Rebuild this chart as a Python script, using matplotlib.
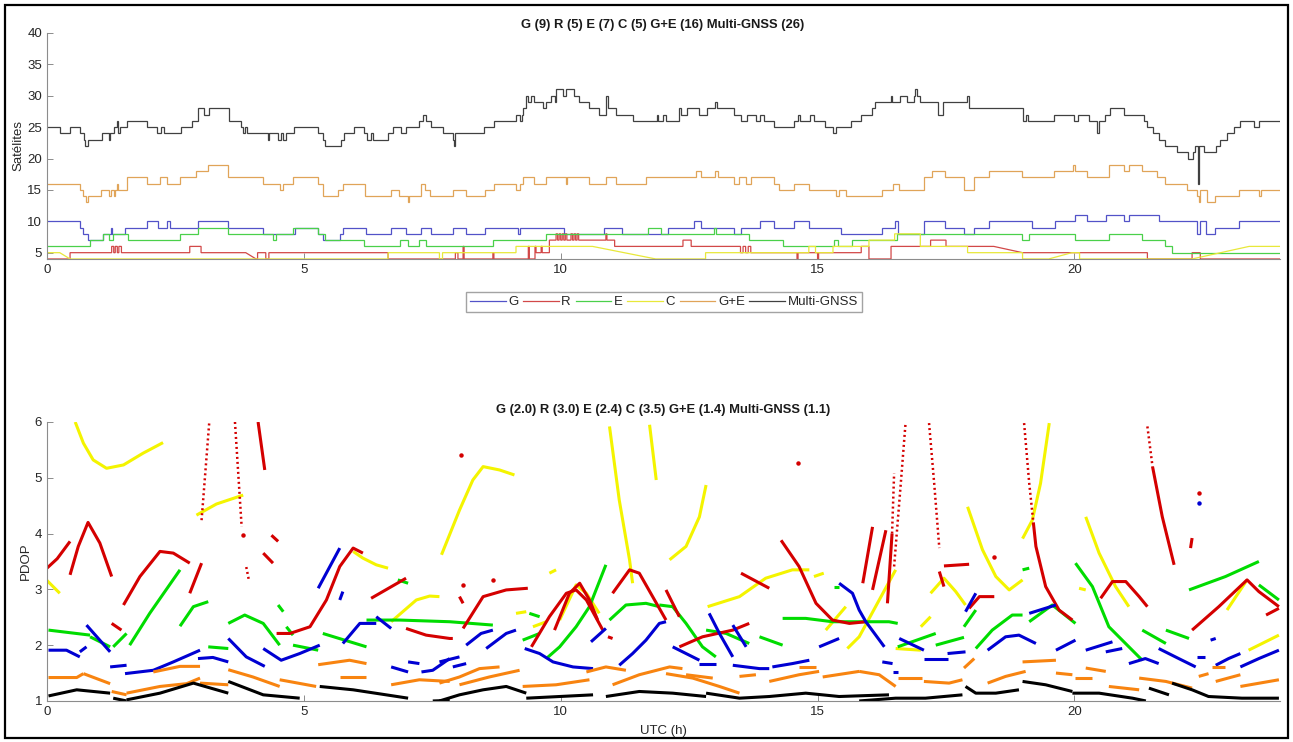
import numpy as np
import matplotlib
matplotlib.use("Agg")
import matplotlib.pyplot as plt
from matplotlib.patches import Rectangle

plt.rcParams["font.family"] = ["Liberation Sans", "DejaVu Sans"]

# ---- satellites in view (step series: start times in h, count; last time closes the series) ----
g_t = [0, 0.64, 0.71, 0.8, 1.1, 1.24, 1.27, 1.52, 1.94, 2.17, 2.33, 2.39, 2.94, 3.53, 4.21, 4.82, 5.28,
       5.37, 5.7, 5.76, 6.22, 6.7, 6.99, 7.29, 7.48, 7.9, 8.16, 8.52, 9.16, 9.2, 10.07, 10.85, 11.19,
       12.08, 12.6, 12.73, 13.38, 13.5, 13.87, 14.16, 14.55, 14.84, 15.45, 16.26, 16.5, 16.56, 17.07,
       17.49, 17.85, 18.05, 18.34, 19.18, 19.25, 19.63, 20.02, 20.25, 20.61, 20.96, 21.06, 21.64,
       22.39, 22.45, 22.56, 22.74, 23.2, 24]
g_n = [10, 9, 8, 7, 8, 9, 8, 9, 10, 9, 10, 9, 10, 9, 8, 9, 8,
       7, 8, 9, 8, 9, 8, 9, 8, 9, 8, 9, 8, 9, 8, 9, 8,
       9, 10, 9, 8, 9, 10, 9, 10, 9, 8, 9, 10, 8, 10,
       9, 8, 9, 10, 9, 9, 10, 11, 10, 11, 10, 11, 10,
       8, 10, 8, 9, 10]

r_t = [0, 0.45, 1.26, 1.3, 1.33, 1.37, 1.4, 1.45, 2.78, 3.0, 3.87, 4.07, 4.1, 4.26, 4.32, 6.64, 7.95,
       8.0, 8.1, 8.12, 8.68, 8.7, 9.37, 9.39, 9.5, 9.52, 9.62, 9.64, 9.78, 9.91, 9.94, 9.97, 10.0,
       10.03, 10.06, 10.09, 10.12, 10.2, 10.23, 10.26, 10.29, 10.32, 10.35, 10.88, 10.9, 11.05,
       12.31, 12.38, 12.54, 13.5, 13.55, 13.6, 13.65, 13.7, 14.6, 14.62, 15.0, 15.02, 15.85, 16.0,
       16.43, 17.2, 17.5, 18.43, 18.99, 21.42, 22.29, 22.45, 24]
r_n = [4, 5, 6, 5, 6, 5, 6, 5, 6, 5, np.nan, 4, 5, 4, 5, 4, 5,
       4, 6, 4, 5, 4, 6, 4, 6, 5, 6, 5, 7, 8, 7, 8, 7,
       8, 7, 8, 7, 8, 7, 8, 7, 8, 7, 8, 7, 6,
       6, 7, 6, 5, 6, 5, 6, 5, 4, 5, 4, 5, 6, 4,
       6, 7, 6, np.nan, 5, 4, 5, 4]

e_t = [0, 0.84, 1.1, 1.2, 1.29, 1.58, 2.59, 2.94, 3.53, 4.4, 4.46, 4.79, 5.28, 5.41, 6.18, 6.87,
       7.03, 7.25, 7.38, 8.68, 9.71, 11.7, 11.96, 12.99, 13.02, 13.67, 14.32, 15.32, 15.39, 15.68,
       16.55, 18.98, 19.11, 20.02, 20.67, 21.32, 21.77, 21.9, 24]
e_n = [6, 7, 8, 7, 8, 7, 8, 9, 8, 7, 8, 9, 8, 7, 6, 7,
       6, 7, 6, 7, 8, 9, 8, 9, 8, 7, 6, 7, 6, 7,
       8, 7, 8, 7, 8, 7, 6, 5]

c_t = [0, 0.25, 0.45, 6.64, 7.64, 7.7, 9.13, 10.62, 11.85, 12.82, 14.83, 14.96, 15.3, 16.0, 16.5,
       17.0, 17.92, 18.99, 19.5, 19.95, 20.1, 22.29, 23.4, 24]
c_n = [5, np.nan, 4, 5, 4, 5, 6, np.nan, 4, 5, 6, 5, 6, 7, 8,
       6, 5, 4, np.nan, 5, 4, np.nan, 6]

ge_t = [0, 0.64, 0.71, 0.76, 0.8, 1.06, 1.2, 1.24, 1.3, 1.33, 1.36, 1.38, 1.55, 1.94, 2.2, 2.33,
        2.39, 2.59, 2.91, 3.14, 3.53, 4.21, 4.53, 4.6, 4.79, 5.28, 5.37, 5.66, 5.76, 6.19, 6.7,
        6.86, 7.03, 7.05, 7.29, 7.35, 7.45, 7.9, 8.16, 8.52, 8.71, 9.13, 9.2, 9.26, 9.49, 9.55,
        9.72, 10.1, 10.13, 10.56, 10.88, 11.08, 11.66, 12.63, 12.73, 13.0, 13.06, 13.38, 13.48,
        13.6, 13.7, 14.16, 14.25, 14.55, 14.84, 15.36, 15.42, 15.55, 16.26, 16.46, 16.59, 17.07,
        17.23, 17.49, 17.85, 18.05, 18.34, 18.98, 19.6, 19.98, 20.01, 20.25, 20.67, 20.96, 21.06,
        21.32, 21.61, 21.77, 22.19, 22.39, 22.42, 22.45, 22.58, 22.74, 23.2, 23.6, 23.63, 24]
ge_n = [16, 15, 14, 13, 14, 15, 14, 15, 14, 15, 16, 15, 17, 16, 17, 16,
        16, 17, 18, 19, 17, 16, 15, 16, 17, 16, 14, 15, 16, 14, 15,
        14, 13, 14, 16, 15, 14, 15, 14, 15, 16, 15, 16, 17, 16, 16,
        17, 16, 17, 16, 17, 16, 17, 18, 17, 18, 17, 16, 17,
        16, 17, 16, 15, 16, 15, 14, 15, 14, 15, 16, 15, 17,
        18, 17, 15, 17, 18, 17, 18, 19, 18, 17, 19, 18, 19,
        18, 17, 16, 15, 14, 13, 15, 13, 14, 15, 14, 15]

multi_t = [0, 0.25, 0.45, 0.65, 0.72, 0.75, 0.79, 1.07, 1.2, 1.23, 1.3, 1.36, 1.39, 1.42, 1.55, 1.95,
           2.15, 2.22, 2.28, 2.6, 2.82, 2.95, 3.05, 3.15, 3.55, 3.78, 3.82, 3.86, 3.9, 4.3, 4.33,
           4.5, 4.55, 4.6, 4.65, 4.8, 5.28, 5.38, 5.42, 5.72, 5.78, 5.97, 6.17, 6.23, 6.31, 6.35,
           6.64, 6.73, 6.9, 6.99, 7.25, 7.32, 7.38, 7.48, 7.71, 7.9, 7.93, 7.95, 8.5, 8.7, 9.13,
           9.2, 9.24, 9.26, 9.33, 9.36, 9.42, 9.49, 9.65, 9.72, 9.81, 9.88, 9.91, 10.05, 10.1,
           10.25, 10.36, 10.56, 10.75, 10.88, 10.92, 11.08, 11.4, 11.87, 11.89, 12.0, 12.05, 12.31,
           12.35, 12.45, 12.7, 12.85, 13.0, 13.05, 13.38, 13.5, 13.62, 13.8, 13.88, 13.95, 14.15,
           14.55, 14.62, 14.65, 14.86, 14.93, 15.15, 15.3, 15.35, 15.65, 15.85, 16.05, 16.12,
           16.42, 16.45, 16.61, 16.75, 16.87, 16.9, 16.93, 17.0, 17.35, 17.45, 17.9, 17.95, 18.99,
           19.05, 19.1, 19.6, 20.0, 20.06, 20.28, 20.43, 20.48, 20.6, 20.7, 20.96, 21.35, 21.42,
           21.52, 21.64, 21.77, 22.0, 22.22, 22.3, 22.35, 22.4, 22.43, 22.52, 22.75, 22.84, 22.97,
           23.1, 23.23, 23.5, 23.6, 24]
multi_n = [25, 24, 25, 24, 23, 22, 23, 24, 23, 24, 25, 26, 24, 25, 26, 25,
           24, 25, 24, 25, 26, 28, 27, 28, 26, 25, 24, 25, 24, 23, 24,
           23, 24, 23, 24, 25, 24, 23, 22, 23, 24, 25, 24, 23, 24, 23,
           24, 25, 24, 25, 26, 27, 26, 25, 24, 23, 22, 24, 25, 26, 27,
           26, 27, 28, 30, 29, 30, 29, 28, 29, 30, 29, 31, 30, 31,
           30, 29, 28, 27, 30, 28, 27, 26, 27, 26, 27, 26, 28,
           27, 28, 27, 28, 29, 28, 27, 26, 27, 26, 27, 26, 25,
           26, 27, 26, 27, 26, 25, 24, 25, 26, 27, 28, 29,
           30, 29, 30, 29, 30, 31, 30, 29, 27, 29, 30, 28, 26,
           27, 26, 27, 26, 27, 26, 24, 26, 27, 28, 27, 26, 25,
           24, 23, 22, 21, 20, 21, 22, 16, 22, 21, 22, 23, 24,
           25, 26, 25, 26]

# ---- PDOP per constellation: each entry is one continuous arc of (UTC h, PDOP) ----
pdop_g = [
    [(0.03, 1.91), (0.38, 1.91), (0.64, 1.79)], [(0.77, 2.36), (1.23, 1.88)], [(0.64, 1.88), (0.77, 1.97)],
    [(1.23, 1.61), (1.55, 1.64)], [(1.52, 1.49), (2.07, 1.55), (2.46, 1.70), (2.98, 1.91)],
    [(2.94, 1.76), (3.23, 1.78), (3.53, 1.70)], [(3.53, 2.12), (3.88, 1.79), (4.24, 1.62)],
    [(4.21, 1.94), (4.56, 1.73), (4.92, 1.85), (5.31, 2.0)], [(5.28, 3.02), (5.70, 3.74)],
    [(5.70, 2.81), (5.76, 2.96)], [(5.76, 2.03), (6.09, 2.39), (6.41, 2.39)], [(6.41, 2.51), (6.70, 2.30)],
    [(6.70, 1.61), (7.03, 1.52)], [(7.03, 1.70), (7.25, 1.67)], [(7.29, 1.52), (7.51, 1.55), (7.84, 1.76)],
    [(7.64, 1.70), (8.03, 1.79)], [(7.9, 1.61), (8.16, 1.67)], [(8.16, 2.0), (8.45, 2.21), (8.68, 2.27)],
    [(8.55, 1.94), (8.94, 2.21), (9.13, 2.27)],
    [(9.30, 1.94), (9.59, 1.85), (9.85, 1.70), (10.24, 1.61), (10.63, 1.58)], [(10.59, 2.06), (10.88, 2.30)],
    [(11.14, 1.64), (11.40, 1.85), (11.66, 2.09), (11.92, 2.39), (12.05, 2.42)],
    [(12.18, 1.97), (12.44, 1.85), (12.70, 1.73)], [(12.89, 2.57), (13.09, 2.21), (13.35, 1.79)],
    [(13.35, 2.36), (13.61, 1.97)], [(12.70, 1.67), (13.02, 1.67)],
    [(13.35, 1.64), (13.87, 1.58), (14.06, 1.58)], [(14.12, 1.61), (14.51, 1.67), (14.84, 1.73)],
    [(15.03, 1.97), (15.42, 2.12)],
    [(15.42, 3.11), (15.68, 2.93), (15.81, 2.63), (15.94, 2.42), (16.30, 1.97)],
    [(16.59, 2.12), (17.07, 1.91)], [(17.07, 1.76), (17.53, 1.76)], [(17.53, 1.85), (17.88, 1.88)],
    [(17.88, 2.6), (18.08, 2.93)], [(16.26, 1.70), (16.46, 1.67)], [(16.46, 1.52), (16.56, 1.52)],
    [(18.31, 1.91), (18.66, 2.15), (18.92, 2.18), (19.25, 2.03)], [(19.12, 2.57), (19.64, 2.72)],
    [(19.64, 1.91), (20.02, 2.09)], [(20.22, 1.91), (20.74, 2.06)], [(20.61, 1.88), (20.93, 1.94)],
    [(21.06, 1.67), (21.38, 1.76), (21.64, 1.67)], [(21.64, 1.94), (22.03, 1.76), (22.36, 1.61)],
    [(22.39, 1.79), (22.55, 1.79)], [(22.65, 2.09), (22.75, 2.12)],
    [(22.75, 1.64), (23.0, 1.76), (23.23, 1.85)], [(23.23, 1.61), (23.59, 1.76), (23.98, 1.91)],
]
pdop_g_dots = [(22.42, 4.54)]

pdop_r = [
    [(0.0, 3.38), (0.2, 3.55), (0.45, 3.86)], [(0.45, 3.26), (0.61, 3.77), (0.80, 4.20), (1.03, 3.83), (1.26, 3.23)],
    [(1.26, 2.39), (1.45, 2.27)], [(1.49, 2.72), (1.81, 3.23), (2.20, 3.68), (2.46, 3.65), (2.78, 3.47)],
    [(2.78, 2.93), (3.01, 3.47)], [(4.11, 6.0), (4.24, 5.14)], [(4.37, 3.97), (4.5, 3.86)],
    [(4.21, 3.65), (4.4, 3.47)],
    [(4.47, 2.21), (4.73, 2.21), (5.12, 2.33), (5.44, 2.81), (5.70, 3.41), (5.96, 3.74), (6.15, 3.65)],
    [(6.31, 2.84), (6.99, 3.2)], [(6.99, 2.30), (7.38, 2.18), (7.84, 2.12), (7.90, 2.12)],
    [(8.03, 2.87), (8.10, 2.75)], [(8.10, 2.30), (8.49, 2.87), (8.94, 2.99), (9.36, 3.02)],
    [(9.43, 1.97), (9.78, 2.51), (10.11, 2.93), (10.30, 2.99), (10.50, 2.81), (10.82, 2.27)],
    [(9.88, 2.27), (10.17, 2.93), (10.37, 3.11), (10.56, 2.81), (10.72, 2.45)],
    [(11.01, 2.93), (11.34, 3.35), (11.53, 3.29), (11.79, 2.87), (12.05, 2.45)],
    [(12.05, 2.99), (12.31, 2.51)], [(10.92, 2.15), (11.01, 2.12)],
    [(12.31, 1.97), (12.76, 2.15), (13.35, 2.27), (13.67, 2.39)], [(13.51, 3.29), (14.06, 3.02)],
    [(14.29, 3.88), (14.64, 3.41), (14.97, 2.75), (15.29, 2.45), (15.62, 2.39), (15.94, 2.42)],
    [(15.88, 3.11), (16.07, 4.12)], [(16.07, 2.99), (16.33, 4.06)], [(16.36, 2.75), (16.45, 4.0)],
    [(17.37, 3.32), (17.46, 3.05)], [(17.46, 3.42), (17.95, 3.45)], [(17.95, 2.66), (18.15, 2.87), (18.44, 2.87)],
    [(19.2, 4.2), (19.25, 3.77), (19.44, 3.05), (19.70, 2.63), (19.96, 2.45)],
    [(20.51, 2.84), (20.74, 3.14), (21.0, 3.14), (21.26, 2.87), (21.42, 2.69)],
    [(21.52, 5.2), (21.71, 4.3), (21.94, 3.44)], [(22.26, 3.74), (22.29, 3.92)],
    [(22.29, 2.27), (22.81, 2.69), (23.36, 3.17), (23.59, 2.96), (23.98, 2.69)],
    [(23.73, 2.54), (23.98, 2.66)],
]
# steep arcs where the 30 s epochs spread apart into dots
pdop_r_sparse = [
    [(3.01, 4.24), (3.16, 6.0)], [(3.66, 6.0), (3.79, 4.12)], [(3.88, 3.4), (3.93, 3.17)],
    [(16.45, 4.0), (16.49, 5.08)], [(16.49, 3.41), (16.62, 4.9), (16.71, 5.95)],
    [(17.17, 5.98), (17.27, 4.9), (17.37, 3.74)], [(19.02, 5.98), (19.12, 4.9), (19.2, 4.2)],
    [(21.42, 5.92), (21.52, 5.2)],
]
pdop_r_dots = [(8.06, 5.41), (8.1, 3.08), (8.68, 3.17), (14.61, 5.26), (18.44, 3.58), (22.42, 4.72), (3.81, 3.97)]

pdop_e = [
    [(0.03, 2.27), (0.84, 2.18)], [(0.84, 2.15), (1.23, 1.97)], [(1.29, 1.97), (1.55, 2.21)],
    [(1.61, 2.0), (2.0, 2.57), (2.59, 3.35)], [(2.59, 2.34), (2.85, 2.69), (3.14, 2.78)],
    [(3.14, 1.97), (3.53, 1.94)], [(3.53, 2.39), (3.85, 2.54), (4.21, 2.39), (4.53, 2.0)],
    [(4.50, 2.72), (4.60, 2.60)], [(4.66, 2.33), (4.79, 2.18)], [(4.79, 2.0), (5.28, 1.91)],
    [(5.37, 2.21), (6.22, 1.97)], [(6.22, 2.45), (6.87, 2.45), (7.84, 2.42), (8.68, 2.36)],
    [(6.83, 3.17), (7.03, 3.11)], [(9.26, 2.09), (9.59, 2.21)],
    [(9.72, 1.76), (9.98, 1.97), (10.30, 2.33), (10.56, 2.69), (10.88, 3.44)],
    [(10.95, 2.45), (11.27, 2.72), (11.66, 2.75), (11.92, 2.69)],
    [(11.92, 2.72), (12.18, 2.69), (12.44, 2.39), (12.76, 1.97), (13.02, 1.79)],
    [(12.83, 2.27), (13.22, 2.21), (13.67, 2.03)], [(13.87, 2.15), (14.32, 2.0)],
    [(14.32, 2.48), (14.77, 2.48), (15.29, 2.42), (16.39, 2.42), (16.56, 2.39)],
    [(15.32, 3.05), (15.42, 3.05)], [(9.39, 2.57), (9.59, 2.51)], [(16.56, 1.97), (17.3, 2.21)],
    [(17.3, 2.0), (17.85, 2.14)], [(17.85, 2.33), (18.08, 2.63)],
    [(18.08, 1.94), (18.40, 2.27), (18.79, 2.54), (18.99, 2.54)], [(18.99, 3.35), (19.12, 3.38)],
    [(19.12, 2.42), (19.57, 2.72), (20.02, 2.39)], [(20.02, 3.47), (20.35, 3.05), (20.67, 2.33), (21.32, 1.73)],
    [(21.32, 2.27), (21.78, 2.03)], [(21.78, 2.27), (22.23, 2.12)],
    [(22.23, 2.99), (22.94, 3.23), (23.59, 3.5)], [(23.59, 3.08), (23.98, 2.81)],
]

pdop_c = [
    [(0.55, 6.0), (0.71, 5.62), (0.90, 5.32), (1.16, 5.17), (1.49, 5.23), (1.87, 5.44), (2.26, 5.63)],
    [(2.91, 4.33), (3.30, 4.53), (3.82, 4.69)], [(0.0, 3.16), (0.25, 2.93)],
    [(5.96, 3.68), (6.15, 3.56), (6.41, 3.44), (6.64, 3.38)], [(6.70, 2.42), (7.19, 2.81), (7.45, 2.88), (7.64, 2.87)],
    [(7.68, 3.62), (8.03, 4.42), (8.29, 4.96), (8.49, 5.2), (8.81, 5.14), (9.10, 5.05)],
    [(10.95, 5.92), (11.14, 4.6), (11.34, 3.53), (11.40, 3.11)], [(11.73, 5.95), (11.86, 4.96)],
    [(12.12, 3.53), (12.44, 3.77), (12.70, 4.3), (12.83, 4.87)],
    [(12.86, 2.69), (13.48, 2.87), (13.99, 3.2), (14.51, 3.35), (14.84, 3.35)], [(14.93, 3.23), (15.12, 3.29)],
    [(9.78, 3.29), (9.91, 3.35)], [(9.13, 2.57), (9.33, 2.6)],
    [(9.98, 2.45), (10.30, 3.08), (10.50, 2.93), (10.75, 2.57)], [(9.46, 2.33), (9.72, 2.42)],
    [(15.16, 2.27), (15.55, 2.69)], [(15.58, 1.94), (15.81, 2.15), (16.2, 2.81), (16.52, 3.35)],
    [(17.01, 2.33), (17.20, 2.51)], [(17.20, 2.93), (17.46, 3.2), (17.69, 2.96), (17.88, 2.72)],
    [(16.52, 1.94), (17.01, 1.91)], [(17.92, 4.48), (18.21, 3.71), (18.47, 3.23), (18.73, 2.99), (18.99, 3.17)],
    [(18.99, 3.91), (19.18, 4.24), (19.34, 4.9), (19.51, 5.98)], [(20.09, 3.02), (20.22, 2.99)],
    [(20.22, 4.3), (20.48, 3.65), (20.8, 3.05), (21.06, 2.69)], [(22.97, 2.63), (23.36, 3.17)],
    [(23.39, 1.91), (23.98, 2.18)],
]

pdop_ge = [
    [(0.03, 1.42), (0.58, 1.42), (0.71, 1.49)], [(0.71, 1.49), (1.23, 1.31)], [(1.26, 1.17), (1.55, 1.11)],
    [(1.55, 1.14), (2.2, 1.26), (2.72, 1.31), (2.98, 1.41)], [(2.07, 1.52), (2.59, 1.62), (2.98, 1.62)],
    [(2.98, 1.32), (3.53, 1.29)], [(3.53, 1.56), (4.01, 1.43), (4.53, 1.26)], [(4.53, 1.38), (5.24, 1.26)],
    [(5.28, 1.65), (5.89, 1.73), (6.22, 1.67)], [(5.70, 1.43), (6.22, 1.43)],
    [(6.70, 1.29), (7.25, 1.38), (7.84, 1.35)], [(7.64, 1.32), (8.03, 1.43), (8.42, 1.58), (8.81, 1.61)],
    [(8.03, 1.29), (8.61, 1.43), (9.2, 1.55)], [(9.26, 1.26), (9.91, 1.29), (10.56, 1.38)],
    [(10.5, 1.52), (10.88, 1.61), (11.27, 1.55)], [(11.01, 1.29), (11.53, 1.47), (12.12, 1.61), (12.37, 1.58)],
    [(12.05, 1.49), (12.57, 1.41), (13.09, 1.26), (13.48, 1.14)], [(12.44, 1.47), (12.96, 1.41)],
    [(14.06, 1.35), (14.64, 1.47), (15.03, 1.53)], [(14.64, 1.61), (14.97, 1.61)],
    [(15.10, 1.43), (15.81, 1.53)], [(13.48, 1.44), (13.80, 1.47)],
    [(15.81, 1.53), (16.2, 1.47), (16.52, 1.26)], [(16.56, 1.41), (17.04, 1.41)],
    [(17.07, 1.35), (17.56, 1.32), (17.82, 1.38)], [(17.85, 1.59), (18.05, 1.76)],
    [(18.31, 1.32), (18.66, 1.44), (19.05, 1.53)], [(18.99, 1.70), (19.64, 1.73)], [(19.64, 1.5), (19.96, 1.47)],
    [(20.02, 1.41), (20.35, 1.41)], [(20.22, 1.59), (20.61, 1.53)], [(20.67, 1.26), (21.26, 1.2)],
    [(21.26, 1.41), (21.78, 1.35), (22.29, 1.23)], [(22.42, 1.44), (22.61, 1.49)],
    [(22.68, 1.61), (22.94, 1.61)], [(22.75, 1.35), (23.23, 1.47)], [(23.23, 1.26), (23.98, 1.38)],
]

pdop_multi = [
    [(0.03, 1.09), (0.58, 1.20), (1.23, 1.14)], [(1.29, 1.05), (1.55, 1.0)],
    [(1.55, 1.02), (2.2, 1.14), (2.85, 1.32), (3.53, 1.14)], [(3.53, 1.35), (4.21, 1.11), (4.92, 1.05)],
    [(5.31, 1.26), (5.96, 1.2), (7.03, 1.05)], [(7.51, 1.0), (7.84, 1.01)],
    [(7.64, 1.0), (8.03, 1.11), (8.49, 1.2), (8.94, 1.26), (9.33, 1.14)],
    [(9.33, 1.05), (9.98, 1.08), (10.63, 1.11)], [(10.88, 1.08), (11.53, 1.17), (12.18, 1.14), (12.83, 1.08)],
    [(12.83, 1.14), (13.48, 1.05), (14.06, 1.08), (14.77, 1.14), (15.42, 1.08), (16.39, 1.11)],
    [(15.81, 1.0), (16.52, 1.05), (17.1, 1.05), (17.82, 1.11)],
    [(17.88, 1.26), (18.08, 1.14), (18.47, 1.14), (18.92, 1.2)], [(18.99, 1.35), (19.44, 1.29), (19.96, 1.17)],
    [(19.96, 1.14), (20.48, 1.14), (21.13, 1.05), (21.39, 1.0)], [(21.45, 1.23), (21.84, 1.11)],
    [(21.90, 1.32), (22.29, 1.2), (22.61, 1.08), (23.26, 1.05), (23.98, 1.05)],
]

labels = ["G", "R", "E", "C", "G+E", "Multi-GNSS"]
top_colors = ["#5252c8", "#d24848", "#4ad04a", "#e8e83a", "#e0a458", "#404040"]
bot_colors = ["#0000d2", "#d40000", "#00dc00", "#f4f400", "#f88410", "#000000"]

AX_GRAY = "#8c8c8c"
TXT = "#262626"
FS = 9.5


def step_path(t, v):
    # horizontal runs between break times; a NaN level means a straight ramp
    xs, ys = [], []
    for i in range(len(v)):
        if np.isnan(v[i]):
            xs += [t[i], t[i + 1]]
            ys += [v[i - 1], v[i + 1]]
        else:
            xs += [t[i], t[i + 1]]
            ys += [v[i], v[i]]
    return xs, ys


def style_axes(ax):
    for side in ("top", "right"):
        ax.spines[side].set_visible(False)
    for side in ("left", "bottom"):
        ax.spines[side].set_color(AX_GRAY)
        ax.spines[side].set_linewidth(0.8)
    ax.tick_params(direction="in", length=4, width=0.7, color=AX_GRAY,
                   labelcolor=TXT, labelsize=FS)
    ax.set_xlim(0, 24)
    ax.set_xticks([0, 5, 10, 15, 20])


fig = plt.figure(figsize=(12.93, 7.42), dpi=100)

# --- number of satellites ---
ax1 = fig.add_axes([0.0363, 0.651, 0.9536, 0.3046])
style_axes(ax1)
series = [(g_t, g_n), (r_t, r_n), (e_t, e_n), (c_t, c_n), (ge_t, ge_n), (multi_t, multi_n)]
for (t, v), col, lab in zip(series, top_colors, labels):
    xs, ys = step_path(t, v)
    ax1.plot(xs, ys, color=col, lw=0.9, label=lab, solid_joinstyle="miter")
ax1.set_ylim(4, 40)
ax1.set_yticks(range(5, 41, 5))
ax1.set_ylabel("Satélites", fontsize=FS, color=TXT)
ax1.yaxis.set_label_coords(-0.018, 0.5)

fig.legend(loc="center", bbox_to_anchor=(664 / 1293, 1 - 302 / 742), ncol=6,
           fontsize=FS, handlelength=2.7, handletextpad=0.2, columnspacing=0.35,
           frameon=True, fancybox=False, edgecolor=AX_GRAY, borderpad=0.3, labelcolor=TXT)

fig.text(663 / 1293, 1 - 25 / 742, "G (9) R (5) E (7) C (5) G+E (16) Multi-GNSS (26)",
         ha="center", va="center", fontsize=9.4, fontweight="bold", color="#1a1a1a")

# --- PDOP ---
ax2 = fig.add_axes([0.0363, 0.0553, 0.9536, 0.376])
style_axes(ax2)
LW = 2.2
for segs, col in zip([pdop_c, pdop_e, pdop_r, pdop_g, pdop_ge, pdop_multi],
                     [bot_colors[3], bot_colors[2], bot_colors[1], bot_colors[0], bot_colors[4], bot_colors[5]]):
    for seg in segs:
        h, p = zip(*seg)
        ax2.plot(h, p, color=col, lw=LW, solid_capstyle="butt")
for seg in pdop_r_sparse:
    h, p = zip(*seg)
    ax2.plot(h, p, color=bot_colors[1], lw=1.8, linestyle=(0, (0.8, 1.2)))
for pts, col in ((pdop_r_dots, bot_colors[1]), (pdop_g_dots, bot_colors[0])):
    h, p = zip(*pts)
    ax2.plot(h, p, linestyle="none", marker="o", markersize=2.2, color=col)
ax2.set_ylim(1, 6)
ax2.set_yticks(range(1, 7))
ax2.set_ylabel("PDOP", fontsize=FS, color=TXT)
ax2.yaxis.set_label_coords(-0.012, 0.5)
ax2.set_xlabel("UTC (h)", fontsize=FS, color=TXT)
ax2.xaxis.set_label_coords(0.5, -0.085)

fig.text(663 / 1293, 1 - 410 / 742, "G (2.0) R (3.0) E (2.4) C (3.5) G+E (1.4) Multi-GNSS (1.1)",
         ha="center", va="center", fontsize=9.4, fontweight="bold", color="#1a1a1a")

# outer frame
fig.patches.append(Rectangle((5 / 1293, 4 / 742), 1283 / 1293, 733 / 742, transform=fig.transFigure,
                             fill=False, edgecolor="black", linewidth=1.6))

fig.savefig("out.png", dpi=100)
